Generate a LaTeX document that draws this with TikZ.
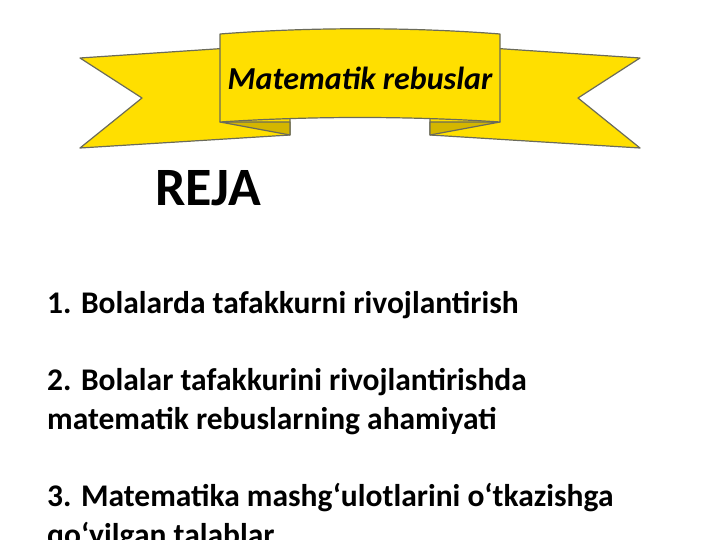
\documentclass[tikz,border=0pt]{standalone}
\usepackage{fontspec}
\setmainfont{Carlito}
\definecolor{ribbon}{HTML}{FFDF00}
\definecolor{ribbonfold}{HTML}{D4B600}
\definecolor{ribbonline}{HTML}{6B6B5A}
\begin{document}
\begin{tikzpicture}[x=1pt,y=-1pt]
    \tikzstyle{band} = [fill=ribbon, draw=ribbonline, line width=1.2pt, line join=round]
    \tikzstyle{fold} = [fill=ribbonfold, draw=ribbonline, line width=1.2pt, line join=round]
    \tikzstyle{item} = [anchor=base west, font=\bfseries\fontsize{31.5}{38}\selectfont, inner sep=0pt]
    \useasboundingbox (0,0) rectangle (720,540);
    % Tails of the ribbon
    \draw[band] (80,58) -- (290,44) -- (290,135) -- (80,148) -- (142,98) -- cycle;
    \draw[band] (640,58) -- (430,44) -- (430,135) -- (640,148) -- (578,98) -- cycle;
    % Folds under the middle band
    \draw[fold] (220,122) -- (290,122) -- (290,135) -- cycle;
    \draw[fold] (500,122) -- (430,122) -- (430,135) -- cycle;
    % Middle band with the title
    \draw[band] (220,34) .. controls (310,27) and (410,27) .. (500,34) -- (500,122)
        .. controls (410,116) and (310,116) .. (220,122) -- cycle;
    \node[font=\bfseries\itshape\fontsize{32}{38}\selectfont] (title) at (360,78) {Matematik rebuslar};
    % Heading
    \node[anchor=base west, font=\bfseries\fontsize{54}{64}\selectfont, inner sep=0pt] (reja) at (155,206) {REJA};
    % Plan items
    \node[item] (item1) at (47,313) {1. Bolalarda tafakkurni rivojlantirish};
    \node[item] (item2a) at (47,390) {2. Bolalar tafakkurini rivojlantirishda};
    \node[item] (item2b) at (47,429) {matematik rebuslarning ahamiyati};
    \node[item] (item3a) at (47,506) {3. Matematika mashg‘ulotlarini o‘tkazishga};
    \node[item] (item3b) at (47,545) {qo‘yilgan talablar};
\end{tikzpicture}
\end{document}
